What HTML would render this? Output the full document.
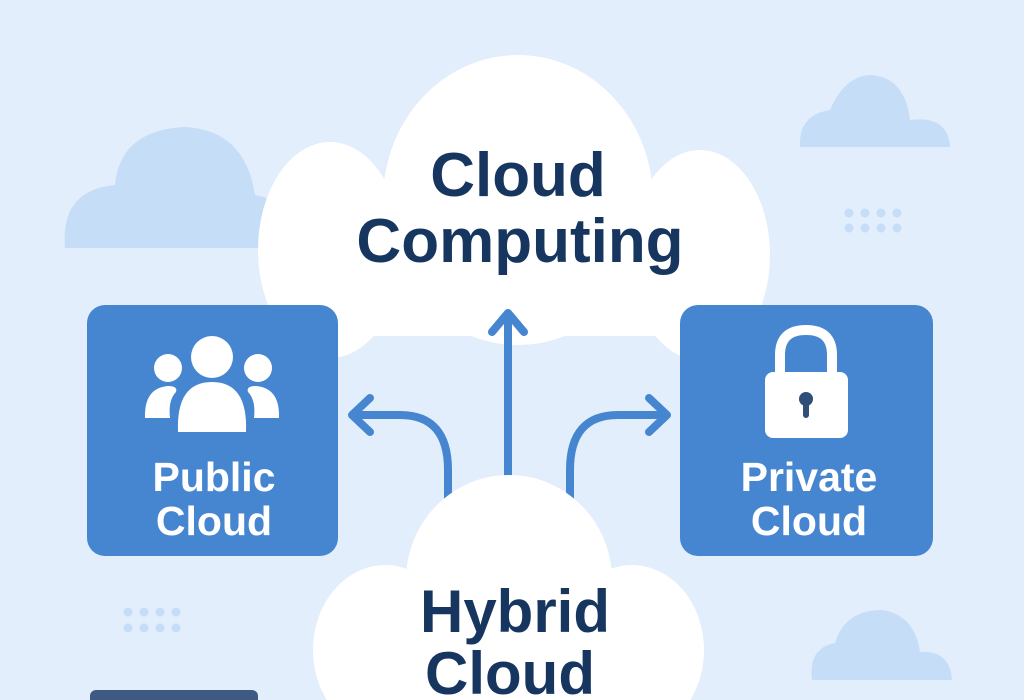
<!DOCTYPE html>
<html><head><style>
html,body{margin:0;padding:0;}
body{width:1024px;height:700px;overflow:hidden;background:#e3eefc;}
svg{display:block}
text{font-family:"Liberation Sans",sans-serif;font-weight:bold;text-anchor:middle}
</style></head><body>
<svg width="1024" height="700" viewBox="0 0 1024 700">
<rect width="1024" height="700" fill="#e3eefc"/>
<g fill="#c6ddf8">
<path d="M65 248 Q60 190 115 185 Q120 130 185 127 Q245 130 255 195 Q285 200 290 230 L290 248 Z"/>
<path d="M800 147 Q798 115 830 110 Q845 75 872 75 Q905 78 910 120 Q948 115 950 147 Z"/>
<path d="M812 680 Q808 648 835 643 Q845 610 882 610 Q915 615 920 652 Q950 650 952 680 Z"/>
</g>
<g fill="#c6ddf8">
<circle cx="849" cy="213" r="4.5"/><circle cx="865" cy="213" r="4.5"/><circle cx="881" cy="213" r="4.5"/><circle cx="897" cy="213" r="4.5"/>
<circle cx="849" cy="228" r="4.5"/><circle cx="865" cy="228" r="4.5"/><circle cx="881" cy="228" r="4.5"/><circle cx="897" cy="228" r="4.5"/>
<circle cx="128" cy="612" r="4.5"/><circle cx="144" cy="612" r="4.5"/><circle cx="160" cy="612" r="4.5"/><circle cx="176" cy="612" r="4.5"/>
<circle cx="128" cy="628" r="4.5"/><circle cx="144" cy="628" r="4.5"/><circle cx="160" cy="628" r="4.5"/><circle cx="176" cy="628" r="4.5"/>
</g>
<g fill="#ffffff">
<ellipse cx="518" cy="200" rx="135" ry="145"/>
<ellipse cx="330" cy="250" rx="72" ry="108"/>
<ellipse cx="700" cy="255" rx="70" ry="105"/>
<rect x="300" y="250" width="440" height="86"/>
</g>
<rect x="87" y="305" width="251" height="251" rx="18" fill="#4686d0"/>
<rect x="680" y="305" width="253" height="251" rx="18" fill="#4686d0"/>
<g stroke="#4686d0" stroke-width="8" fill="none" stroke-linecap="round" stroke-linejoin="round">
<path d="M508 500 L508 318"/><path d="M492 332 L508 313 L524 332"/>
<path d="M448 505 L448 470 Q448 415 400 415 L355 415"/><path d="M370 398 L352 415 L370 432"/>
<path d="M570 505 L570 470 Q570 415 618 415 L664 415"/><path d="M649 398 L667 415 L649 432"/>
</g>
<g fill="#ffffff">
<ellipse cx="509" cy="580" rx="103" ry="105"/>
<ellipse cx="385" cy="650" rx="72" ry="85"/>
<ellipse cx="632" cy="650" rx="72" ry="85"/>
<rect x="330" y="600" width="360" height="100"/>
</g>
<g fill="#ffffff">
<circle cx="212" cy="357" r="21"/>
<circle cx="168" cy="368" r="14"/>
<circle cx="258" cy="368" r="14"/>
<path d="M178 432 Q176 382 212 382 Q248 382 246 432 Z"/>
<path d="M145 418 Q144 388 168 386 Q178 386 176 392 Q168 400 170 418 Z"/>
<path d="M279 418 Q280 388 256 386 Q246 386 248 392 Q256 400 254 418 Z"/>
</g>
<path d="M780 378 L780 355 Q780 330 806 330 Q832 330 832 355 L832 378" stroke="#fff" stroke-width="10" fill="none"/>
<rect x="765" y="372" width="83" height="66" rx="8" fill="#fff"/>
<circle cx="806" cy="399" r="7" fill="#2f4e78"/>
<rect x="803" y="400" width="6" height="18" rx="3" fill="#2f4e78"/>
<rect x="90" y="690" width="168" height="20" rx="6" fill="#3f5a82"/>
<g fill="#17365f">
<text x="518" y="196" font-size="62">Cloud</text>
<text x="520" y="262" font-size="62">Computing</text>
<text x="515" y="632" font-size="60">Hybrid</text>
<text x="510" y="694" font-size="60">Cloud</text>
</g>
<g fill="#ffffff" font-size="41">
<text x="214" y="491">Public</text>
<text x="214" y="535">Cloud</text>
<text x="809" y="491">Private</text>
<text x="809" y="535">Cloud</text>
</g>
</svg>
</body></html>
